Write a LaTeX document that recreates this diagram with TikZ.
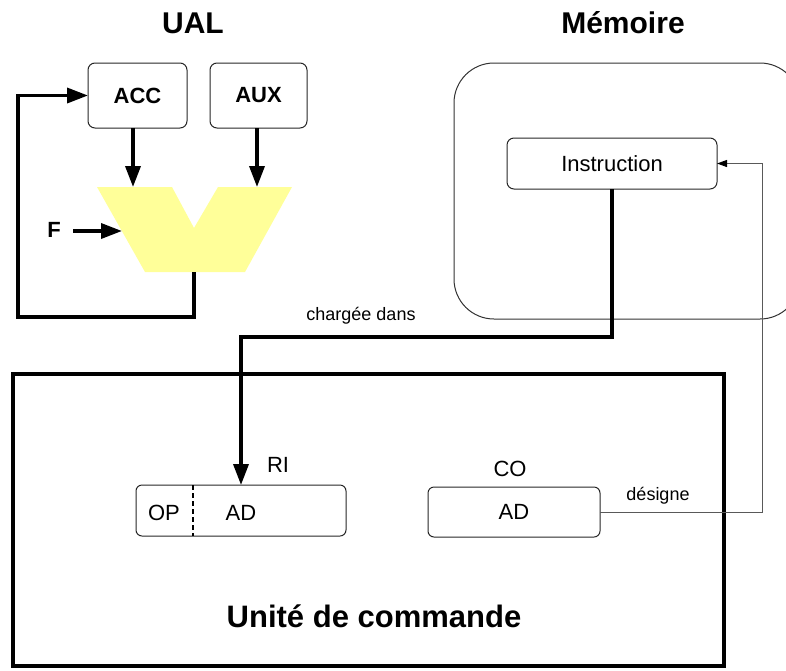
\documentclass[tikz,border=0pt]{standalone}
\usepackage{fontspec}
\setmainfont{Liberation Sans}
\usetikzlibrary{arrows.meta}
\begin{document}
\begin{tikzpicture}[x=1pt,y=-1pt,
  title/.style={font=\fontsize{30}{34}\selectfont\bfseries, anchor=base, inner sep=0pt},
  blbl/.style={font=\fontsize{22}{26}\selectfont\bfseries},
  lbl/.style={font=\fontsize{22}{26}\selectfont},
  txt/.style={font=\fontsize{22}{26}\selectfont, anchor=base, inner sep=0pt},
  small/.style={font=\fontsize{18}{22}\selectfont, anchor=base, inner sep=0pt},
  regbox/.style={draw=black!85, line width=1pt, rounded corners=7pt, inner sep=0pt, outer sep=0pt},
  bus/.style={line width=3.5pt, draw=black, -{Triangle[length=21pt,width=15pt]}},
  thinarrow/.style={line width=1pt, draw=black!65, -{Triangle[length=10pt,width=7pt,fill=black,color=black]}},
  divider/.style={line width=2.5pt, dash pattern=on 5pt off 3pt}
]
\useasboundingbox (0,0) rectangle (786,670);

% titles
\node[title] (tual) at (193,33) {UAL};
\node[title] (tmem) at (623,33) {Mémoire};

% memory
\node[draw=black!80, line width=1pt, rounded corners=40pt, minimum width=346pt, minimum height=256pt, inner sep=0pt, outer sep=0pt] (mem) at (627,191) {};
\node[regbox, lbl, minimum width=210pt, minimum height=51pt] (instr) at (612,163.5) {Instruction};

% UAL
\node[regbox, blbl, minimum width=99pt, minimum height=65pt] (acc) at (137.5,95.5) {ACC};
\node[regbox, blbl, minimum width=97pt, minimum height=65pt] (aux) at (258.5,95.5) {AUX};
\fill[fill={rgb,255:red,255;green,255;blue,153}]
  (97,187) -- (172,187) -- (194,228) -- (218,187) -- (292,187) -- (245,272) -- (145,272) -- cycle;
\coordinate (aluA) at (133,187);
\coordinate (aluB) at (257,187);
\coordinate (aluF) at (122,231);
\coordinate (aluOut) at (194,272);
\node[blbl, anchor=base, inner sep=0pt] (f) at (54,237) {F};
\coordinate (fs) at (73,231);
\coordinate (fb) at (18,317);

\draw[bus] (acc.south -| aluA) -- (aluA);
\draw[bus] (aux.south -| aluB) -- (aluB);
\draw[bus] (fs) -- (aluF);
\draw[bus] (aluOut) |- (fb) |- (acc.west);

% control unit
\node[draw=black, line width=4pt, minimum width=711pt, minimum height=292pt, inner sep=0pt, outer sep=0pt] (uc) at (368.5,520) {};
\node[title, font=\fontsize{31}{35}\selectfont\bfseries] (tuc) at (374,627) {Unité de commande};

\node[regbox, rounded corners=6pt, minimum width=210pt, minimum height=51pt] (ri) at (241,510.5) {};
\draw[divider] (ri.north west) ++(57,0) -- ++(0,51);
\node[txt] (op) at (164,520) {OP};
\node[txt] (adri) at (241,520) {AD};
\node[txt] (tri) at (278,472) {RI};

\node[regbox, rounded corners=6pt, lbl, minimum width=172pt, minimum height=50pt] (co) at (514,512) {AD};
\node[txt] (tco) at (510,476) {CO};

% connectors
\coordinate (c1) at (241,337);
\draw[bus] (instr.south) |- (c1) -- (c1 |- ri.north);
\node[small] (lch) at (361,320) {chargée dans};

\coordinate (d2) at (762,512);
\draw[thinarrow] (co.east) -- (d2) |- (instr.east);
\node[small] (ldes) at (658,500) {désigne};
\end{tikzpicture}
\end{document}
